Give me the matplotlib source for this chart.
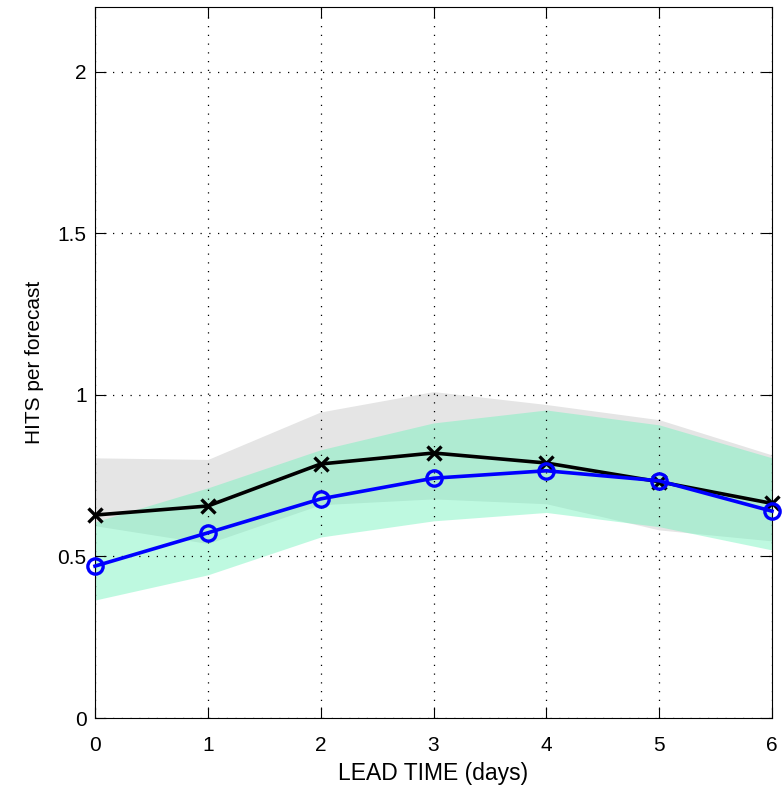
import matplotlib

matplotlib.use("Agg")
import matplotlib.pyplot as plt

# lead time (days)
lead = [0, 1, 2, 3, 4, 5, 6]

# black line (x markers) and its grey spread
hits_black = [0.628, 0.656, 0.786, 0.820, 0.789, 0.731, 0.664]
black_hi = [0.805, 0.800, 0.947, 1.010, 0.970, 0.923, 0.814]
black_lo = [0.595, 0.540, 0.660, 0.678, 0.663, 0.582, 0.548]

# blue line (o markers) and its green spread
hits_blue = [0.470, 0.573, 0.678, 0.742, 0.765, 0.734, 0.640]
blue_hi = [0.607, 0.712, 0.830, 0.913, 0.953, 0.907, 0.805]
blue_lo = [0.365, 0.443, 0.560, 0.610, 0.636, 0.592, 0.520]

plt.rcParams["font.family"] = ["Liberation Sans", "DejaVu Sans"]

fig = plt.figure(figsize=(7.82, 7.90), dpi=100)
ax = fig.add_axes([95 / 782, 72 / 790, 677 / 782, 711 / 790])

ax.fill_between(lead, black_lo, black_hi, color="#e5e5e5", linewidth=0, zorder=1)
ax.fill_between(lead, blue_lo, blue_hi, color=(107 / 255, 243 / 255, 186 / 255),
                alpha=0.44, linewidth=0, zorder=2)

ax.plot(lead, hits_black, color="black", lw=2.6, marker="x", ms=10, mew=2.4,
        zorder=4, clip_on=False)
ax.plot(lead, hits_blue, color="#0000ff", lw=2.6, marker="o", ms=11,
        mfc="none", mew=2.4, zorder=5, clip_on=False)

ax.set_xlim(0, 6)
ax.set_ylim(0, 2.2)
ax.set_xticks(lead)
ax.set_yticks([0, 0.5, 1, 1.5, 2])
ax.set_yticklabels(["0", "0.5", "1", "1.5", "2"])
ax.grid(True, color="black", linestyle=(0, (1, 6)), linewidth=0.9)
ax.set_axisbelow(False)
ax.tick_params(direction="in", length=8, width=0.8, top=True, right=True,
               labelsize=15, pad=6)
ax.tick_params(axis="x", pad=13)
for s in ax.spines.values():
    s.set_linewidth(0.8)

ax.set_xlabel("LEAD TIME (days)", fontsize=16.5, labelpad=5)
ax.set_ylabel("HITS per forecast", fontsize=15, labelpad=10)

fig.savefig("out.png", dpi=100)
